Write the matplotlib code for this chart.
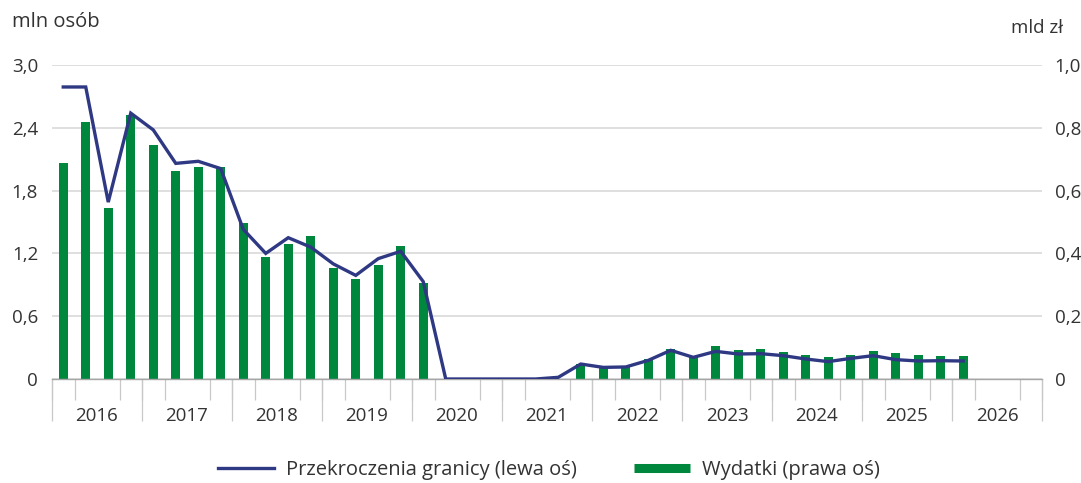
import matplotlib
matplotlib.use("Agg")
import matplotlib.pyplot as plt
import numpy as np
from matplotlib.lines import Line2D

plt.rcParams['font.family'] = ['Open Sans', 'DejaVu Sans']

# ---- data (quarterly, 2016Q1 .. 2026Q1) ----
years = ['2016', '2017', '2018', '2019', '2020', '2021', '2022', '2023', '2024', '2025', '2026']
border_crossings = [  # mln osób (left axis)
    2.79, 2.79, 1.69, 2.54,
    2.38, 2.06, 2.08, 2.01,
    1.43, 1.20, 1.35, 1.26,
    1.10, 0.99, 1.15, 1.22,
    0.93, 0.00, 0.00, 0.00,
    0.00, 0.00, 0.016, 0.143,
    0.111, 0.115, 0.178, 0.274,
    0.207, 0.264, 0.239, 0.242,
    0.223, 0.191, 0.166, 0.197,
    0.223, 0.185, 0.172, 0.175,
    0.172,
]
spending = [  # mld zł (right axis)
    0.687, 0.820, 0.544, 0.840,
    0.745, 0.661, 0.674, 0.676,
    0.498, 0.390, 0.429, 0.456,
    0.352, 0.320, 0.364, 0.424,
    0.305, 0.0, 0.0, 0.0,
    0.0, 0.0, 0.0, 0.049,
    0.037, 0.038, 0.065, 0.096,
    0.072, 0.104, 0.092, 0.096,
    0.085, 0.076, 0.070, 0.075,
    0.089, 0.083, 0.076, 0.074,
    0.072,
]
left_ticks = [0, 0.6, 1.2, 1.8, 2.4, 3.0]
left_labels = ['0', '0,6', '1,2', '1,8', '2,4', '3,0']
right_ticks = [0, 0.2, 0.4, 0.6, 0.8, 1.0]
right_labels = ['0', '0,2', '0,4', '0,6', '0,8', '1,0']

GREEN = '#00873E'
NAVY = '#2E3883'
GRID = '#D9D9D9'
TICKC = '#C8C8C8'
TXT = '#333333'
TICKFS = 13.5
TEXTFS = 14.5

W, H = 1081, 483
fig = plt.figure(figsize=(W / 100, H / 100), dpi=100)
ax = fig.add_axes([52 / W, 1 - 379 / H, (1042 - 52) / W, (379 - 65) / H])
ax2 = ax.twinx()

nq = len(years) * 4
x = np.arange(len(spending)) + 0.5

# bars on right axis (drawn below the line axis)
ax2.set_zorder(1)
ax.set_zorder(2)
ax.patch.set_visible(False)
ax2.bar(x, spending, width=0.42, color=GREEN, zorder=3)
ax2.set_ylim(0, 1.0)
ax2.set_yticks(right_ticks)
ax2.set_yticklabels(right_labels)
ax2.tick_params(axis='y', length=0, pad=9, labelsize=TICKFS, labelcolor=TXT)
ax2.grid(axis='y', color=GRID, lw=1.2, zorder=0)
ax2.set_axisbelow(True)
for s in ax2.spines.values():
    s.set_visible(False)

# line on left axis
ax.plot(x, border_crossings, color=NAVY, lw=2.4, solid_joinstyle='miter', zorder=4)
ax.set_ylim(0, 3.0)
ax.set_xlim(0, nq)
ax.set_yticks(left_ticks)
ax.set_yticklabels(left_labels)
ax.tick_params(axis='y', length=0, pad=10, labelsize=TICKFS, labelcolor=TXT)
for k in ['top', 'right', 'left']:
    ax.spines[k].set_visible(False)
ax.spines['bottom'].set_color('#A6A6A6')
ax.spines['bottom'].set_linewidth(1.0)

# x axis: year labels at centres, short ticks at quarter boundaries
ax.set_xticks(np.arange(len(years)) * 4 + 2)
ax.set_xticklabels(years)
ax.tick_params(axis='x', which='major', length=0, pad=20, labelsize=TICKFS, labelcolor=TXT)
ax.set_xticks(np.arange(0, nq + 1), minor=True)
ax.tick_params(axis='x', which='minor', length=15, width=0.9, color=TICKC)

# long ticks at year boundaries
sec = ax.secondary_xaxis('bottom')
sec.set_xticks(np.arange(0, nq + 1, 4))
sec.tick_params(axis='x', length=30, width=0.9, color=TICKC, labelbottom=False)
sec.spines['bottom'].set_visible(False)

# axis unit labels
fig.text(12 / W, 1 - 22 / H, 'mln osób', ha='left', va='center', fontsize=TEXTFS, color=TXT)
fig.text(1063 / W, 1 - 28 / H, 'mld zł', ha='right', va='center', fontsize=13.5, color=TXT)

# legend
handles = [Line2D([], [], color=NAVY, lw=2.4),
           Line2D([], [], color=GREEN, lw=6.5, solid_capstyle='butt')]
fig.legend(handles, ['Przekroczenia granicy (lewa oś)', 'Wydatki (prawa oś)'],
           loc='center', bbox_to_anchor=(549 / W, 1 - 470 / H), ncol=2, frameon=False,
           fontsize=TEXTFS, labelcolor=TXT, handlelength=2.8, handletextpad=0.6,
           columnspacing=2.8)

fig.savefig('out.png', dpi=100)
